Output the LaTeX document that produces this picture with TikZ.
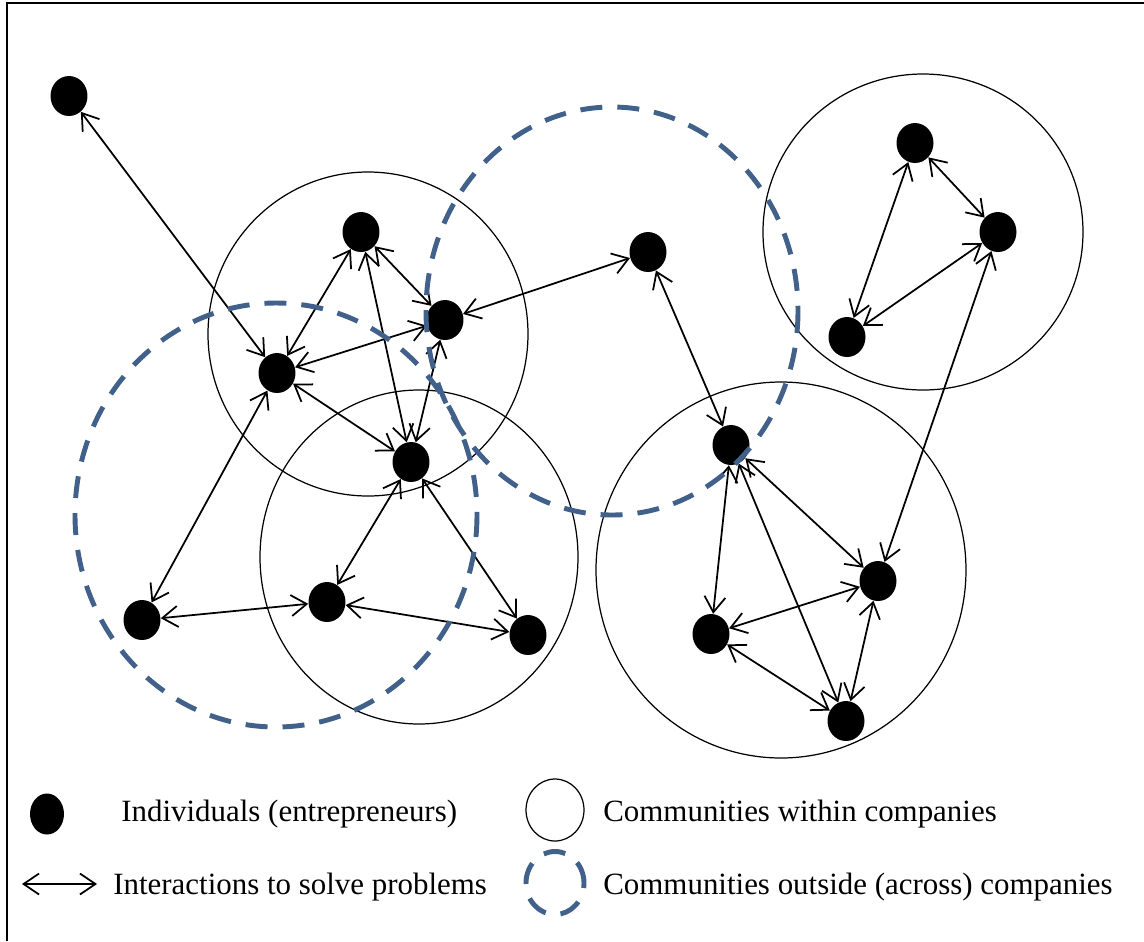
\documentclass[tikz,border=0pt]{standalone}
\usepackage{fontspec}
\setmainfont{Liberation Serif}
\usetikzlibrary{arrows.meta,shapes.geometric}
\definecolor{commblue}{RGB}{66,97,138}

\begin{document}
\begin{tikzpicture}[x=0.02cm,y=-0.02cm,font=\fontsize{17.6}{21}\selectfont,
  person/.style={ellipse,fill=black,inner sep=0pt,minimum width=0.74cm,minimum height=0.8cm},
  link/.style={{Straight Barb[length=3.1mm,width=4.2mm]}-{Straight Barb[length=3.1mm,width=4.2mm]},line width=1pt},
  inside/.style={line width=0.7pt},
  across/.style={commblue,line width=2.8pt,dash pattern=on 0.44cm off 0.3cm},
  legtext/.style={anchor=base west,inner sep=0pt}]

\useasboundingbox (0,0) rectangle (1144,941);
\draw[line width=1.2pt] (7,941) -- (7,3) -- (1144,3);

\begin{scope}
\draw[inside] (368,334) ellipse [x radius=160,y radius=162];
\draw[inside] (419,557) ellipse [x radius=159,y radius=167];
\draw[inside] (781,570) ellipse [x radius=185,y radius=188];
\draw[inside] (923,232) ellipse [x radius=160,y radius=158];

\node[person] (e1) at (69,96) {};
\node[person] (e2) at (361,232) {};
\node[person] (e3) at (445,320) {};
\node[person] (e4) at (277,373) {};
\node[person] (e5) at (411,462) {};
\node[person] (e6) at (648,252) {};
\node[person] (e7) at (915,143) {};
\node[person] (e8) at (998,232) {};
\node[person] (e9) at (847,337) {};
\node[person] (e10) at (731,445) {};
\node[person] (e11) at (878,581) {};
\node[person] (e12) at (711,634) {};
\node[person] (e13) at (846,721) {};
\node[person] (e14) at (142,620) {};
\node[person] (e15) at (327,602) {};
\node[person] (e16) at (528,635) {};

\draw[link] (e1) -- (e4);
\draw[link] (e4) -- (e2);
\draw[link] (e4) -- (e3);
\draw[link] (e4) -- (e5);
\draw[link] (e2) -- (e3);
\draw[link] (e2) -- (e5);
\draw[link] (e3) -- (e5);
\draw[link] (e3) -- (e6);
\draw[link] (e4) -- (e14);
\draw[link] (e5) -- (e15);
\draw[link] (e5) -- (e16);
\draw[link] (e14) -- (e15);
\draw[link] (e15) -- (e16);
\draw[link] (e6) -- (e10);
\draw[link] (e7) -- (e8);
\draw[link] (e7) -- (e9);
\draw[link] (e8) -- (e9);
\draw[link] (e8) -- (e11);
\draw[link] (e10) -- (e12);
\draw[link] (e10) -- (e11);
\draw[link] (e10) -- (e13);
\draw[link] (e11) -- (e12);
\draw[link] (e11) -- (e13);
\draw[link] (e12) -- (e13);

\draw[across] (276,515) ellipse [x radius=201,y radius=212];
\draw[across] (612,311) ellipse [x radius=186,y radius=204];
\end{scope}

\begin{scope}
\node[person,minimum width=0.68cm,minimum height=0.82cm] (lp) at (47,814) {};
\node[legtext] (lpt) at (121,821) {Individuals (entrepreneurs)};
\coordinate (la1) at (22,884);
\coordinate (la2) at (97,884);
\draw[link] (la1) -- (la2);
\node[legtext] (lat) at (113,894) {Interactions to solve problems};
\node[ellipse,draw,inside,minimum width=1.16cm,minimum height=1.24cm] (lc) at (555,810) {};
\node[legtext] (lct) at (603,821) {Communities within companies};
\node[ellipse,draw,across,minimum width=1.16cm,minimum height=1.26cm] (ld) at (555,883) {};
\node[legtext] (ldt) at (603,894) {Communities outside (across) companies};
\end{scope}

\end{tikzpicture}
\end{document}
